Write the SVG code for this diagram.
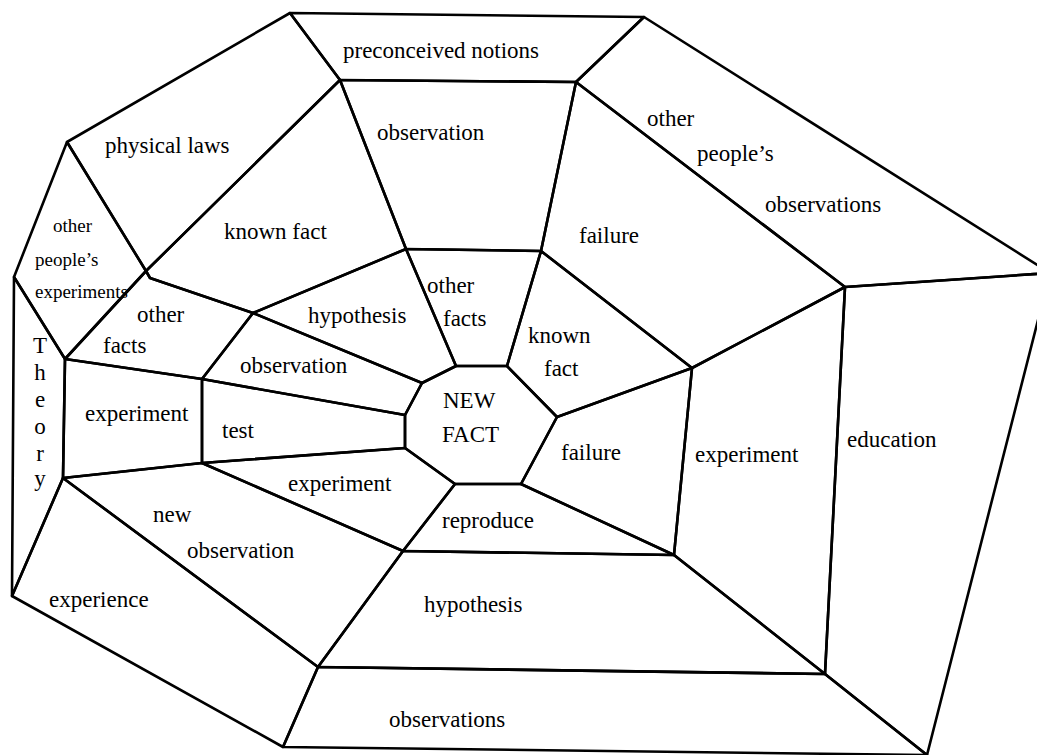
<svg xmlns="http://www.w3.org/2000/svg" width="1037" height="755" viewBox="0 0 1037 755">
<style>
.r{fill:none;stroke:#000;stroke-width:2.6;stroke-linejoin:round}
text{font-family:"Liberation Serif","Times New Roman",serif;font-size:23px;fill:#000}
.s{font-size:19px}
</style>
<rect width="1037" height="755" fill="#fff"/>
<g id="regions">
<g id="preconceived"><polygon class="r" points="290,13 644,17 576,82 340,80"/><text x="343" y="58">preconceived notions</text></g>
<g id="observation-top"><polygon class="r" points="340,80 576,82 541,251 406,249"/><text x="377" y="140">observation</text></g>
<g id="physical-laws"><polygon class="r" points="290,13 340,80 146,271 67,142"/><text x="105" y="153">physical laws</text></g>
<g id="known-fact-top"><polygon class="r" points="340,80 406,249 253,313 150,278 146,271"/><text x="224" y="239">known fact</text></g>
<g id="other-peoples-experiments"><polygon class="r" points="67,142 146,271 65,359 14,277"/><text class="s" x="53" y="232">other</text><text class="s" x="35" y="266">people’s</text><text class="s" x="35" y="298">experiments</text></g>
<g id="other-facts-left"><polygon class="r" points="146,271 150,278 253,313 202,379 65,359"/><text x="137" y="322">other</text><text x="103" y="353">facts</text></g>
<g id="hypothesis-center"><polygon class="r" points="406,249 456,366 422,383 253,313"/><text x="308" y="323">hypothesis</text></g>
<g id="other-facts-center"><polygon class="r" points="406,249 541,251 507,366 456,366"/><text x="427" y="293">other</text><text x="443" y="326">facts</text></g>
<g id="known-fact-right"><polygon class="r" points="541,251 692,368 557,417 507,366"/><text x="528" y="343">known</text><text x="544" y="376">fact</text></g>
<g id="failure-top"><polygon class="r" points="576,82 845,287 692,368 541,251"/><text x="579" y="243">failure</text></g>
<g id="other-peoples-observations"><polygon class="r" points="576,82 644,17 1050,273 845,287"/><text x="647" y="126">other</text><text x="697" y="161">people’s</text><text x="765" y="212">observations</text></g>
<g id="observation-left"><polygon class="r" points="253,313 422,383 405,415 202,379"/><text x="240" y="373">observation</text></g>
<g id="new-fact"><polygon class="r" points="456,366 507,366 557,417 521,484 455,484 405,448 405,415 422,383"/><text x="443" y="408">NEW</text><text x="442" y="442">FACT</text></g>
<g id="theory"><polygon class="r" points="14,277 65,359 63,478 12,596"/>
<text x="40" y="353" text-anchor="middle">T</text><text x="40" y="380" text-anchor="middle">h</text><text x="40" y="407" text-anchor="middle">e</text><text x="40" y="434" text-anchor="middle">o</text><text x="40" y="461" text-anchor="middle">r</text><text x="40" y="486" text-anchor="middle">y</text></g>
<g id="experiment-left"><polygon class="r" points="65,359 202,379 202,463 63,478"/><text x="85" y="421">experiment</text></g>
<g id="test"><polygon class="r" points="202,379 405,415 405,448 202,463"/><text x="222" y="438">test</text></g>
<g id="failure-right"><polygon class="r" points="557,417 692,368 674,555 521,484"/><text x="561" y="460">failure</text></g>
<g id="experiment-right"><polygon class="r" points="692,368 845,287 825,674 674,555"/><text x="695" y="462">experiment</text></g>
<g id="education"><polygon class="r" points="845,287 1050,273 927,755 825,674"/><text x="847" y="447">education</text></g>
<g id="experiment-center"><polygon class="r" points="202,463 405,448 455,484 403,551"/><text x="288" y="491">experiment</text></g>
<g id="reproduce"><polygon class="r" points="455,484 521,484 674,555 403,551"/><text x="442" y="528">reproduce</text></g>
<g id="new-observation"><polygon class="r" points="63,478 202,463 403,551 318,667"/><text x="153" y="522">new</text><text x="187" y="558">observation</text></g>
<g id="experience"><polygon class="r" points="12,596 63,478 318,667 283,747"/><text x="49" y="607">experience</text></g>
<g id="hypothesis-bottom"><polygon class="r" points="403,551 674,555 825,674 318,667"/><text x="424" y="612">hypothesis</text></g>
<g id="observations-bottom"><polygon class="r" points="318,667 825,674 927,755 283,747"/><text x="389" y="727">observations</text></g>
</g>
<g id="connectors"></g>
</svg>
